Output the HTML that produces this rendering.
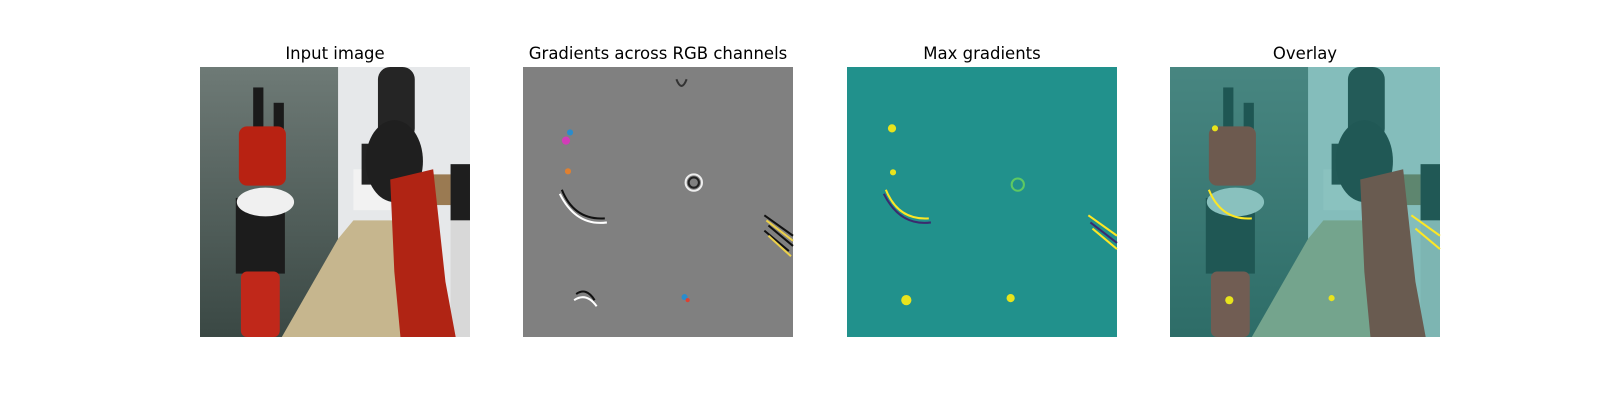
<!DOCTYPE html>
<html><head><meta charset="utf-8"><style>
html,body{margin:0;padding:0;background:#fff;width:1600px;height:400px;overflow:hidden}
svg{position:absolute;left:0;top:0}
text{font-family:"DejaVu Sans","Liberation Sans",sans-serif;font-size:16.5px;fill:#000}
</style></head><body>
<svg width="1600" height="400" viewBox="0 0 1600 400">
<defs>
<linearGradient id="glass" x1="0" y1="0" x2="0" y2="1"><stop offset="0" stop-color="#6e7a76"/><stop offset="1" stop-color="#3a4844"/></linearGradient>
<g id="scene">
<rect width="264" height="264" fill="#e6e8ea"/>
<rect width="135" height="264" fill="url(#glass)"/>
<polygon points="80,264 135,168 150,150 205,150 205,264" fill="#c6b68e"/>
<rect x="150" y="100" width="36" height="40" fill="#f2f2f2"/>
<rect x="158" y="75" width="18" height="40" fill="#222"/>
<rect x="215" y="105" width="30" height="30" fill="#9a7a52"/>
<rect x="245" y="95" width="19" height="55" fill="#1e1e1e"/>
<rect x="245" y="150" width="19" height="114" fill="#d8d8d8"/>
<rect x="52" y="20" width="10" height="42" fill="#1a1a1a"/>
<rect x="72" y="35" width="10" height="30" fill="#1a1a1a"/>
<rect x="38" y="58" width="46" height="58" rx="8" fill="#b82212"/>
<rect x="35" y="128" width="48" height="74" fill="#1c1c1c"/>
<ellipse cx="64" cy="132" rx="28" ry="14" fill="#f0f0f0"/>
<rect x="40" y="200" width="38" height="64" rx="6" fill="#c0281a"/>
<rect x="174" y="0" width="36" height="72" rx="12" fill="#252525"/>
<ellipse cx="190" cy="92" rx="28" ry="40" fill="#1f1f1f"/>
<polygon points="186,110 228,100 240,210 250,264 196,264 190,200" fill="#b02414"/>
</g>
</defs>
<text x="335" y="59" text-anchor="middle">Input image</text>
<text x="658" y="59" text-anchor="middle">Gradients across RGB channels</text>
<text x="982" y="59" text-anchor="middle">Max gradients</text>
<text x="1305" y="59" text-anchor="middle">Overlay</text>

<g transform="translate(200,67) scale(1.0227)"><use href="#scene"/></g>

<g transform="translate(523,67) scale(1.0227)">
<rect width="264" height="264" fill="#808080"/>
<g fill="none" stroke-width="2">
<path d="M38,120 Q50,150 80,148" stroke="#111"/><path d="M36,124 Q52,156 82,152" stroke="#fff"/>
<circle cx="167" cy="113" r="8" stroke="#eee"/><circle cx="167" cy="113" r="5" stroke="#222"/>
<path d="M236,145 L264,165 M240,155 L264,175 M236,160 L260,180" stroke="#111"/><path d="M238,150 L264,170 M240,165 L262,185" stroke="#ecd04a"/>
<path d="M52,222 Q62,215 70,228" stroke="#111"/><path d="M50,228 Q62,220 72,234" stroke="#fff"/>
<path d="M150,12 Q155,25 160,12" stroke="#333"/>
</g>
<circle cx="42" cy="72" r="4" fill="#d23cb8"/><circle cx="46" cy="64" r="3" fill="#2a8ccc"/>
<circle cx="44" cy="102" r="3" fill="#e08030"/><circle cx="158" cy="225" r="3" fill="#2a8ccc"/><circle cx="161" cy="228" r="2" fill="#e04030"/>
</g>

<g transform="translate(847,67) scale(1.0227)">
<rect width="264" height="264" fill="#21918c"/>
<g fill="#e8e41c"><circle cx="44" cy="60" r="4"/><circle cx="45" cy="103" r="3"/><circle cx="160" cy="226" r="4"/><circle cx="58" cy="228" r="5"/></g>
<g fill="none" stroke-width="2">
<path d="M38,120 Q50,150 80,148" stroke="#fde725"/><path d="M36,124 Q52,156 82,152" stroke="#3b2a6e"/>
<circle cx="167" cy="115" r="6" stroke="#5ec962"/>
<path d="M236,145 L264,165 M240,158 L264,178" stroke="#fde725"/><path d="M238,152 L264,172" stroke="#3b2a6e"/>
</g>
</g>

<g transform="translate(1170,67) scale(1.0227)">
<use href="#scene"/>
<rect width="264" height="264" fill="#21918c" opacity="0.5"/>
<g fill="#e8e41c"><circle cx="44" cy="60" r="3"/><circle cx="158" cy="226" r="3"/><circle cx="58" cy="228" r="4"/></g>
<g fill="none" stroke-width="2">
<path d="M38,120 Q50,150 80,148" stroke="#fde725"/>
<path d="M236,145 L264,165 M240,158 L264,178" stroke="#fde725"/>
</g>
</g>
</svg>
</body></html>
